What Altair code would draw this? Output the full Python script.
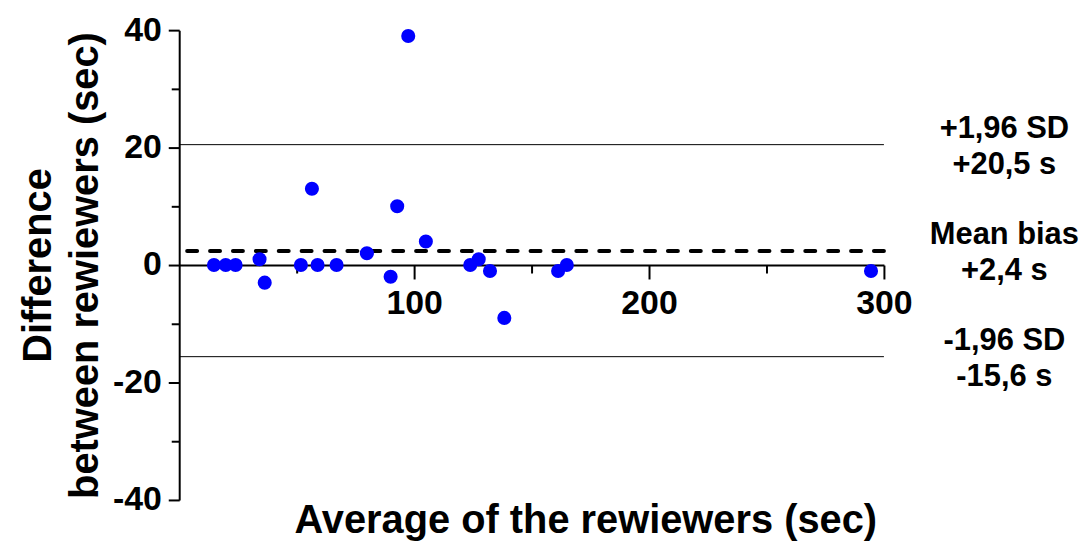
import altair as alt
import pandas as pd

# Bland-Altman data
avg_sec = [14.8, 19.8, 24.0, 34.2, 36.4, 51.8, 56.5, 58.9, 67.0, 79.9, 90.0,
           92.8, 97.5, 105.0, 123.9, 127.5, 132.3, 138.4, 161.3, 165.0, 294.5]
diff_sec = [0, 0, 0, 1, -3, 0, 13, 0, 0, 2, -2,
            10, 39, 4, 0, 1, -1, -9, -1, 0, -1]

limit_values = [20.5, 2.4, -15.6]
limit_kinds = ["sd", "mean", "sd"]
limit_labels = ["+1,96 SD\n+20,5 s", "Mean bias\n+2,4 s", "-1,96 SD\n-15,6 s"]

x_ticks = [50, 100, 150, 200, 250, 300]
y_ticks = [-40, -30, -20, -10, 0, 10, 20, 30, 40]

pts = pd.DataFrame({"avg": avg_sec, "diff": diff_sec})
lims = pd.DataFrame({"y": limit_values, "kind": limit_kinds, "label": limit_labels})

FONT = "Liberation Sans"

x_scale = alt.Scale(domain=[0, 300], nice=False, zero=False)
y_scale = alt.Scale(domain=[-40, 40], nice=False)

x_axis = alt.Axis(
    values=x_ticks, orient="bottom", offset=-236,
    labelExpr="datum.value % 100 === 0 ? '' + datum.value : ''",
    tickSize={"condition": {"test": "datum.value % 100 === 0", "value": 14}, "value": 8},
    tickWidth=2, tickColor="black", domainWidth=2, domainColor="black",
    labelFont=FONT, labelFontSize=34, labelFontWeight="bold", labelColor="black",
    labelPadding=8, labelFlush=False, labelOverlap=False, grid=False,
    title="Average of the rewiewers (sec)", titleFont=FONT, titleFontSize=40,
    titleFontWeight="bold", titleColor="black", titleX=408, titleY=257,
    titleAlign="center", titleBaseline="middle",
)

y_axis = alt.Axis(
    values=y_ticks, orient="left",
    labelExpr="datum.value % 20 === 0 ? '' + datum.value : ''",
    tickSize={"condition": {"test": "datum.value % 20 === 0", "value": 11}, "value": 8},
    tickWidth=2, tickColor="black", domainWidth=2, domainColor="black",
    labelFont=FONT, labelFontSize=34, labelFontWeight="bold", labelColor="black",
    labelPadding=7, labelFlush=False, labelOverlap=False, grid=False,
    title=["Difference", "between rewiewers (sec)"], titleFont=FONT, titleFontSize=40,
    titleFontWeight="bold", titleColor="black", titleAngle=270,
    titleX=-141, titleY=236, titleAlign="center", titleBaseline="middle",
    titleLineHeight=47,
)

sd_rules = alt.Chart(lims).transform_filter(alt.datum.kind == "sd").mark_rule(
    color="black", strokeWidth=1
).encode(y=alt.Y("y:Q", scale=y_scale, axis=y_axis))

mean_rule = alt.Chart(lims).transform_filter(alt.datum.kind == "mean").mark_rule(
    color="black", strokeWidth=4, strokeDash=[10, 13], strokeCap="round"
).encode(y=alt.Y("y:Q", scale=y_scale))

points = alt.Chart(pts).mark_circle(color="#0000FF", size=200, opacity=1).encode(
    x=alt.X("avg:Q", scale=x_scale, axis=x_axis),
    y=alt.Y("diff:Q", scale=y_scale),
)

labels = alt.Chart(lims).mark_text(
    font=FONT, fontSize=31, fontWeight="bold", color="black", align="center",
    baseline="middle", lineBreak="\n", lineHeight=36, dy=-16, clip=False,
).encode(
    x=alt.value(829),
    y=alt.Y("y:Q", scale=y_scale),
    text="label:N",
)

chart = alt.layer(sd_rules, mean_rule, points, labels).properties(
    width=708, height=472,
    background="white",
    autosize=alt.AutoSizeParams(type="none"),
    padding={"left": 172, "top": 21, "right": 200, "bottom": 40},
).configure_view(strokeWidth=0, stroke=None)

chart.save("out.html", embed_options={"renderer": "svg", "actions": False})
